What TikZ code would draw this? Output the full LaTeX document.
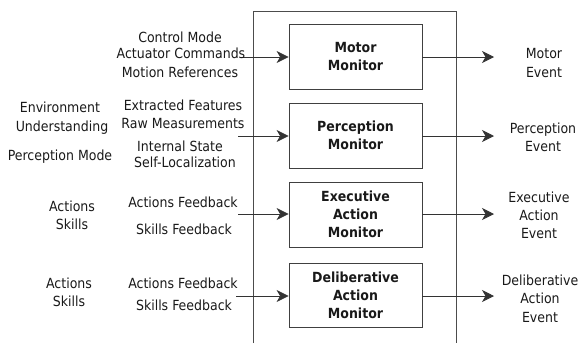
\documentclass[tikz,border=0pt]{standalone}
\usepackage{fontspec}
\setmainfont{DejaVu Sans Condensed}
\usetikzlibrary{arrows.meta}
\begin{document}
\begin{tikzpicture}[x=1bp,y=-1bp,
  every node/.style={inner sep=0pt, font=\fontsize{14}{18}\selectfont, text=black!90},
  lbl/.style={anchor=base},
  monitor/.style={draw=black!75, line width=0.8bp, minimum width=133bp, minimum height=65bp,
    align=center, font=\fontsize{14}{18}\selectfont\bfseries},
  flow/.style={draw=black!80, line width=0.8bp, -{Stealth[length=12bp,width=12bp,inset=3.5bp]}}]
\useasboundingbox (0,0) rectangle (580,343);

% enclosing frame, open at the bottom
\draw[black!70, line width=0.8bp] (253,343) -- (253,11) -- (456,11) -- (456,343);

% monitors
\node[monitor] (mot) at (355.5,56.5) {Motor\\Monitor};
\node[monitor] (per) at (355.5,135.5) {Perception\\Monitor};
\node[monitor, minimum height=65bp] (exe) at (355.5,214.5) {Executive\\Action\\Monitor};
\node[monitor, minimum height=64bp] (del) at (355.5,295) {Deliberative\\Action\\Monitor};

% free ends of the connectors
\coordinate (motin) at (240,57);
\coordinate (perin) at (238,136);
\coordinate (exein) at (238,214);
\coordinate (delin) at (236,296);
\coordinate (motout) at (494,57);
\coordinate (perout) at (494,136);
\coordinate (exeout) at (494,214);
\coordinate (delout) at (494,296);

\draw[flow] (motin) -- (mot.west |- motin);
\draw[flow] (perin) -- (per.west |- perin);
\draw[flow] (exein) -- (exe.west |- exein);
\draw[flow] (delin) -- (del.west |- delin);
\draw[flow] (mot.east |- motout) -- (motout);
\draw[flow] (per.east |- perout) -- (perout);
\draw[flow] (exe.east |- exeout) -- (exeout);
\draw[flow] (del.east |- delout) -- (delout);

% inputs of the motor monitor
\node[lbl] (cm) at (180,42) {Control Mode};
\node[lbl] (ac) at (181,58) {Actuator Commands};
\node[lbl] (mr) at (180,77) {Motion References};

% inputs of the perception monitor
\node[lbl] (ef) at (183,110) {Extracted Features};
\node[lbl] (rm) at (183,128) {Raw Measurements};
\node[lbl] (is) at (180,151) {Internal State};
\node[lbl] (sl) at (185,167) {Self-Localization};
\node[lbl] (env) at (60,112) {Environment};
\node[lbl] (und) at (62,131) {Understanding};
\node[lbl] (pm) at (60,160) {Perception Mode};

% inputs of the executive action monitor
\node[lbl] (ea) at (72,211) {Actions};
\node[lbl] (es) at (72,229) {Skills};
\node[lbl] (eaf) at (183,207) {Actions Feedback};
\node[lbl] (esf) at (184,234) {Skills Feedback};

% inputs of the deliberative action monitor
\node[lbl] (da) at (69,288) {Actions};
\node[lbl] (ds) at (69,306) {Skills};
\node[lbl] (daf) at (183,288) {Actions Feedback};
\node[lbl] (dsf) at (184,310) {Skills Feedback};

% events
\node[lbl] (mev) at (544,58) {Motor};
\node[lbl] (mev2) at (544,77) {Event};
\node[lbl] (pev) at (543,133) {Perception};
\node[lbl] (pev2) at (543,151) {Event};
\node[lbl] (xev) at (539,202) {Executive};
\node[lbl] (xev2) at (539,220) {Action};
\node[lbl] (xev3) at (539,238) {Event};
\node[lbl] (dev) at (540,285) {Deliberative};
\node[lbl] (dev2) at (540,303) {Action};
\node[lbl] (dev3) at (540,322) {Event};
\end{tikzpicture}
\end{document}
